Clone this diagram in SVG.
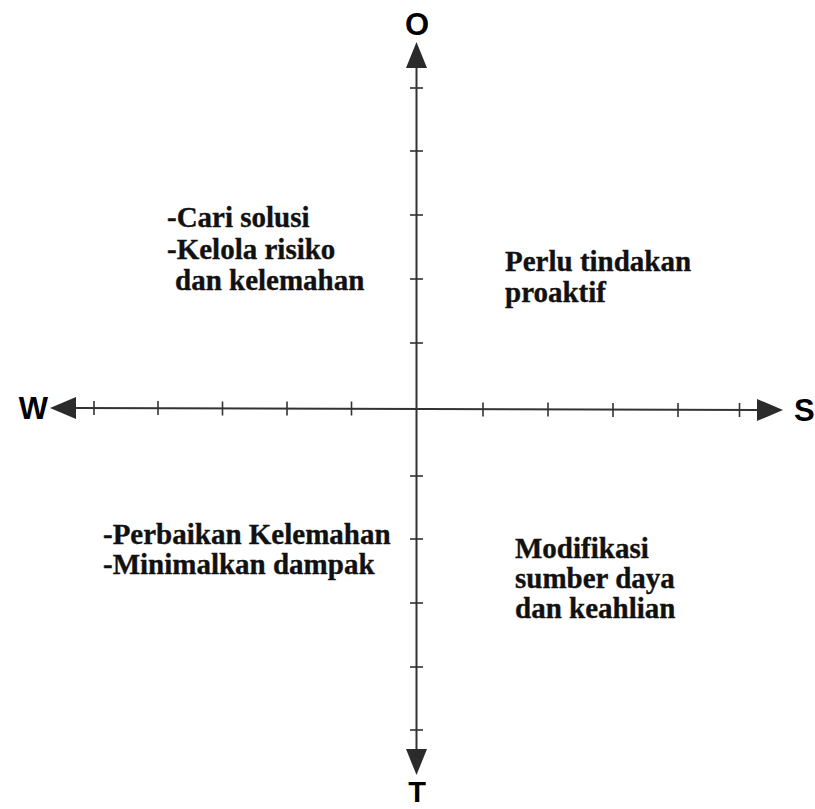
<svg xmlns="http://www.w3.org/2000/svg" width="815" height="809" viewBox="0 0 815 809">
<style>
.axis{stroke:#333;stroke-width:2;fill:none}
.tick{stroke:#333;stroke-width:1.6;fill:none}
.head{fill:#2b2b2b;stroke:none}
.lbl{font-family:"Liberation Sans",Arial,sans-serif;font-weight:bold;font-size:31px;fill:#000}
.q{font-family:"Liberation Serif","Times New Roman",serif;font-weight:bold;font-size:29px;fill:#111;stroke:#111;stroke-width:0.35}
</style>
<rect width="815" height="809" fill="#fff"/>
<g id="connectors">
<line class="axis" x1="76" y1="408" x2="757" y2="410"/>
<line class="axis" x1="416.5" y1="68" x2="416.5" y2="749"/>
<polygon class="head" points="416.5,42 406,68 427,68"/>
<polygon class="head" points="416.5,775 406,749 427,749"/>
<polygon class="head" points="50,408 76,397 76,419"/>
<polygon class="head" points="783,410 757,399 757,421"/>
<g id="ticks-x">
<line class="tick" x1="94" y1="401" x2="94" y2="415"/>
<line class="tick" x1="158" y1="401" x2="158" y2="415"/>
<line class="tick" x1="222.5" y1="401.5" x2="222.5" y2="415.5"/>
<line class="tick" x1="287" y1="401.5" x2="287" y2="415.5"/>
<line class="tick" x1="351.5" y1="401.5" x2="351.5" y2="415.5"/>
<line class="tick" x1="483" y1="402.5" x2="483" y2="416.5"/>
<line class="tick" x1="548" y1="402.5" x2="548" y2="416.5"/>
<line class="tick" x1="613" y1="403" x2="613" y2="417"/>
<line class="tick" x1="678" y1="403" x2="678" y2="417"/>
<line class="tick" x1="739.5" y1="403" x2="739.5" y2="417"/>
</g>
<g id="ticks-y">
<line class="tick" x1="410" y1="88" x2="423" y2="88"/>
<line class="tick" x1="410" y1="151" x2="423" y2="151"/>
<line class="tick" x1="410" y1="215" x2="423" y2="215"/>
<line class="tick" x1="410" y1="279" x2="423" y2="279"/>
<line class="tick" x1="410" y1="343" x2="423" y2="343"/>
<line class="tick" x1="410" y1="476" x2="423" y2="476"/>
<line class="tick" x1="410" y1="539" x2="423" y2="539"/>
<line class="tick" x1="410" y1="603" x2="423" y2="603"/>
<line class="tick" x1="410" y1="667" x2="423" y2="667"/>
<line class="tick" x1="410" y1="730" x2="423" y2="730"/>
</g>
</g>
<g id="label-O"><text class="lbl" x="417" y="34.5" text-anchor="middle">O</text></g>
<g id="label-T"><text class="lbl" x="417" y="802" text-anchor="middle" style="font-size:29px">T</text></g>
<g id="label-W"><text class="lbl" x="48" y="419" text-anchor="end">W</text></g>
<g id="label-S"><text class="lbl" x="794" y="421">S</text></g>
<g id="quadrant-WO">
<text class="q" x="167" y="226.5">-Cari solusi</text>
<text class="q" x="167" y="258.5">-Kelola risiko</text>
<text class="q" x="175" y="290">dan kelemahan</text>
</g>
<g id="quadrant-SO">
<text class="q" x="505" y="271">Perlu tindakan</text>
<text class="q" x="505" y="302">proaktif</text>
</g>
<g id="quadrant-WT">
<text class="q" x="103" y="544">-Perbaikan Kelemahan</text>
<text class="q" x="103" y="574">-Minimalkan dampak</text>
</g>
<g id="quadrant-ST">
<text class="q" x="515" y="558">Modifikasi</text>
<text class="q" x="515" y="588">sumber daya</text>
<text class="q" x="515" y="618">dan keahlian</text>
</g>
</svg>
